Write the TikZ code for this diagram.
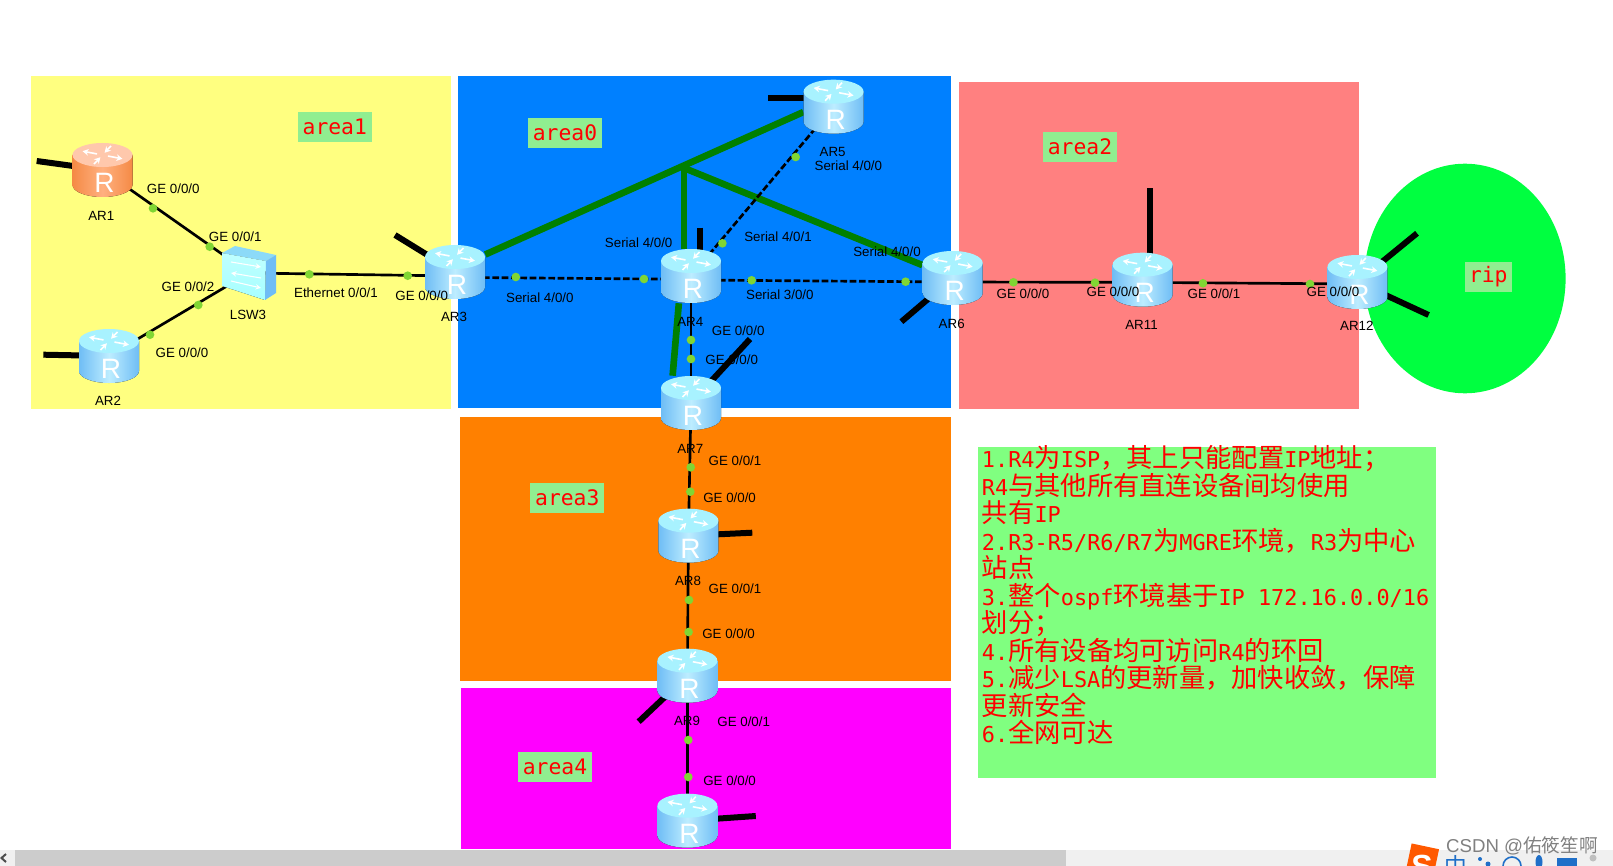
\documentclass[tikz,border=0pt]{standalone}
\usepackage{fontspec}
\usetikzlibrary{arrows.meta}
\setmainfont{Liberation Sans}
\setmonofont{DejaVu Sans Mono}
\newfontfamily\cjk{Noto Sans CJK SC}
\newcommand{\cn}[1]{{\fontsize{19.7}{20.6}\selectfont\cjk #1}}
\definecolor{areaone}{HTML}{FFFF80}
\definecolor{areazero}{HTML}{0080FF}
\definecolor{areatwo}{HTML}{FF8080}
\definecolor{areathree}{HTML}{FF8000}
\definecolor{areafour}{HTML}{FF00FF}
\definecolor{ripgreen}{HTML}{00FF40}
\definecolor{notegreen}{HTML}{80FF80}
\definecolor{tagfill}{HTML}{90EE90}
\definecolor{linkgreen}{HTML}{008000}
\definecolor{dotgreen}{HTML}{80D633}
\definecolor{blueedge}{HTML}{6FBDF5}
\definecolor{bluemid}{HTML}{BDEDFF}
\definecolor{bluetop}{HTML}{A8F2FF}
\definecolor{orangeedge}{HTML}{F58A45}
\definecolor{orangemid}{HTML}{FFB080}
\definecolor{orangetop}{HTML}{FFC8AC}
\definecolor{imeblue}{HTML}{1F6FC8}
\tikzset{
  routerbox/.style={minimum width=45pt,minimum height=40.5pt,inner sep=0pt},
  areatag/.style={fill=tagfill,text=red,font=\fontsize{16}{16}\selectfont\ttfamily,
    minimum width=55.5pt,minimum height=22.5pt,inner sep=0pt},
  portdot/.style={circle,fill=dotgreen,minimum size=6.5pt,inner sep=0pt},
  portlabel/.style={font=\fontsize{10}{10}\selectfont,inner sep=0pt},
  stub/.style={line width=4.5pt},
  etherlink/.style={line width=2pt},
  seriallink/.style={line width=2pt,dash pattern=on 5pt off 2pt},
  ospflink/.style={line width=5pt,linkgreen},
  glyph/.style={white,line width=1.2pt},
  pics/router/.style n args={3}{code={
    \fill[left color=#1,right color=#1,middle color=#2]
      (-30,-15) -- (-30,15) arc[start angle=180,end angle=0,x radius=30,y radius=12] -- (30,-15) -- cycle;
    \fill[#3] (0,-15) ellipse [x radius=30,y radius=12];
    \foreach \a in {25,205} {
      \draw[glyph,-{Stealth[length=4.5pt,width=5pt]}] ({6*cos(\a)},{-15+2.5*sin(\a)}) -- ({22*cos(\a)},{-15+9*sin(\a)});
    }
    \foreach \a in {115,295} {
      \draw[glyph,{Stealth[length=4.5pt,width=5pt]}-] ({5*cos(\a)},{-15+2.5*sin(\a)}) -- ({20*cos(\a)},{-15+10*sin(\a)});
    }
    \node[white,font=\fontsize{21}{21}\selectfont,inner sep=0pt] (-r) at (2,13) {R};
  }},
  pics/switch/.style={code={
    \fill[top color=cyan!25,bottom color=cyan!35!white] (-27,-20) -- (17,-12) -- (16,27) -- (-27,13) -- cycle;
    \fill[cyan!45] (-27,-20) -- (-14,-27) -- (27,-18) -- (17,-12) -- cycle;
    \fill[blueedge] (17,-12) -- (27,-18) -- (27,20) -- (16,27) -- cycle;
    \draw[white,line width=.8pt,-stealth] (-18,-11) -- (12,-6);
    \draw[white,line width=.8pt,stealth-] (-18,0) -- (12,5);
    \draw[white,line width=.8pt,-stealth] (-18,8) -- (12,15);
  }}
}
\begin{document}
\begin{tikzpicture}[x=.75pt,y=-.75pt]
  \useasboundingbox (0,0) rectangle (1613,866);
  \clip (0,0) rectangle (1613,866);
  % areas
  \fill[areaone] (30.7,75.7) rectangle (450.7,409);
  \fill[areazero] (458,75.7) rectangle (950.7,408);
  \fill[areatwo] (959.3,82.3) rectangle (1359.3,409.3);
  \fill[areathree] (459.6,417.3) rectangle (950.7,680.7);
  \fill[areafour] (460.7,688) rectangle (950.7,849);
  \fill[ripgreen] (1465,278.5) ellipse [x radius=100.6,y radius=114.8];
  % devices
  \node[routerbox] (AR1) at (102.5,170) {};
  \node[routerbox] (AR2) at (109,356) {};
  \node[routerbox] (LSW3) at (249,273) {};
  \node[routerbox] (AR3) at (455,272) {};
  \node[routerbox] (AR4) at (691,276) {};
  \node[routerbox] (AR5) at (833.6,106.7) {};
  \node[routerbox] (AR6) at (952.7,278) {};
  \node[routerbox] (AR7) at (691,403) {};
  \node[routerbox] (AR8) at (688.4,535.7) {};
  \node[routerbox] (AR9) at (687.4,675.7) {};
  \node[routerbox] (AR10) at (687.4,820.7) {};
  \node[routerbox] (AR11) at (1142.6,279.7) {};
  \node[routerbox] (AR12) at (1357.4,282) {};
  \coordinate (hub) at (684,168);
  % loose ends
  \coordinate (endA) at (36.7,161);
  \coordinate (endB) at (43.3,354.7);
  \coordinate (endC) at (395,235);
  \coordinate (endD) at (699.5,227.7);
  \coordinate (endE) at (768,98);
  \coordinate (endF) at (901.4,321.7);
  \coordinate (endG) at (750,339);
  \coordinate (endH) at (752.3,532.7);
  \coordinate (endI) at (638.7,721.7);
  \coordinate (endJ) at (755.8,816);
  \coordinate (endK) at (1150.4,188.3);
  \coordinate (endL) at (1417,233.3);
  \coordinate (endM) at (1428.6,315);
  % green tunnels
  \draw[ospflink] (AR3.30) -- (AR5.190);
  \draw[ospflink] (hub) -- (AR6.157);
  \draw[ospflink] (hub) -- (hub |- AR4.north);
  \draw[ospflink] (AR4.246) -- (AR7.124);
  % links
  \draw[etherlink] (AR1.center) -- (LSW3.center);
  \draw[etherlink] (AR2.center) -- (LSW3.center);
  \draw[etherlink] (LSW3.center) -- ([yshift=-3pt]AR3.center);
  \draw[seriallink] ([yshift=-4pt]AR3.center) -- ([yshift=-2.5pt]AR4.center);
  \draw[seriallink] ([yshift=-3pt]AR4.center) -- ([yshift=-3pt]AR6.center);
  \draw[seriallink] (AR4.center) -- (AR5.center);
  \draw[etherlink] (AR4.center) -- (AR7.center);
  \draw[etherlink] (AR7.center) -- (AR8.center);
  \draw[etherlink] (AR8.center) -- (AR9.center);
  \draw[etherlink] (AR9.center) -- (AR10.center);
  \draw[etherlink] ([yshift=-3pt]AR6.center) -- ([yshift=-2pt]AR11.center);
  \draw[etherlink] ([yshift=-2pt]AR11.center) -- ([yshift=-1.5pt]AR12.center);
  % stubs
  \draw[stub] (endA) -- (AR1.center);
  \draw[stub] (endB) -- (AR2.center);
  \draw[stub] (endC) -- (AR3.center);
  \draw[stub] (endD) -- (endD |- AR4.center);
  \draw[stub] (endE) -- (AR5.center |- endE);
  \draw[stub] (endF) -- (AR6.center);
  \draw[stub] (endG) -- (AR7.center);
  \draw[stub] (endH) -- (AR8.center);
  \draw[stub] (endI) -- (AR9.center);
  \draw[stub] (endJ) -- (AR10.center);
  \draw[stub] (endK) -- (endK |- AR11.center);
  \draw[stub] (endL) -- (AR12.center);
  \draw[stub] (endM) -- (AR12.center);
  % port dots
  \node[portdot] (dotA) at (153,208.3) {};
  \node[portdot] (dotB) at (209.7,246.7) {};
  \node[portdot] (dotC) at (198.3,305) {};
  \node[portdot] (dotD) at (150,334.7) {};
  \node[portdot] (dotE) at (309.3,274.3) {};
  \node[portdot] (dotF) at (407.7,275.7) {};
  \node[portdot] (dotG) at (515.8,277) {};
  \node[portdot] (dotH) at (644,279) {};
  \node[portdot] (dotI) at (751.6,280.3) {};
  \node[portdot] (dotJ) at (905.6,281.7) {};
  \node[portdot] (dotK) at (722.4,243.3) {};
  \node[portdot] (dotL) at (795.7,157) {};
  \node[portdot] (dotM) at (691,340) {};
  \node[portdot] (dotN) at (691,359) {};
  \node[portdot] (dotO) at (690.7,467.3) {};
  \node[portdot] (dotP) at (690.3,491.7) {};
  \node[portdot] (dotQ) at (689,600) {};
  \node[portdot] (dotR) at (688.6,632) {};
  \node[portdot] (dotS) at (688.3,740) {};
  \node[portdot] (dotT) at (688.3,777) {};
  \node[portdot] (dotU) at (1013.4,282.3) {};
  \node[portdot] (dotV) at (1095,282.7) {};
  \node[portdot] (dotW) at (1202.9,283.3) {};
  \node[portdot] (dotX) at (1310,284) {};
  % router bodies
  \pic (bodyAR1) at (AR1) {router={orangeedge}{orangemid}{orangetop}};
  \foreach \n in {AR2,AR3,AR4,AR5,AR6,AR7,AR8,AR9,AR10,AR11,AR12} {
    \pic (body\n) at (\n) {router={blueedge}{bluemid}{bluetop}};
  }
  \pic (bodyLSW3) at (LSW3) {switch};
  % area tags
  \node[areatag] (tagA) at (334.8,126.8) {area1};
  \node[areatag] (tagB) at (565,133.2) {area0};
  \node[areatag] (tagC) at (1080,146.7) {area2};
  \node[areatag] (tagD) at (567.3,498) {area3};
  \node[areatag] (tagE) at (555,766.8) {area4};
  \node[areatag,minimum width=35.5pt] (tagF) at (1488.3,276.7) {rip};
  % names
  \node[portlabel] (nameA) at (101.3,216) {AR1};
  \node[portlabel] (nameB) at (108,401) {AR2};
  \node[portlabel] (nameC) at (248,315) {LSW3};
  \node[portlabel] (nameD) at (454,317.3) {AR3};
  \node[portlabel] (nameE) at (690.3,321.7) {AR4};
  \node[portlabel] (nameF) at (832.6,152.3) {AR5};
  \node[portlabel] (nameG) at (951.7,324) {AR6};
  \node[portlabel] (nameH) at (690.3,448.7) {AR7};
  \node[portlabel] (nameI) at (688,581.3) {AR8};
  \node[portlabel] (nameJ) at (687,721.3) {AR9};
  \node[portlabel] (nameK) at (1141.5,325) {AR11};
  \node[portlabel] (nameL) at (1356.8,326) {AR12};
  % port labels
  \node[portlabel] (portA) at (173.3,189) {GE 0/0/0};
  \node[portlabel] (portB) at (235.3,236.7) {GE 0/0/1};
  \node[portlabel] (portC) at (188,286.7) {GE 0/0/2};
  \node[portlabel] (portD) at (182,352.7) {GE 0/0/0};
  \node[portlabel] (portE) at (336,293) {Ethernet 0/0/1};
  \node[portlabel] (portF) at (421.7,295.3) {GE 0/0/0};
  \node[portlabel] (portG) at (848.4,165.3) {Serial 4/0/0};
  \node[portlabel] (portH) at (778,236.7) {Serial 4/0/1};
  \node[portlabel] (portI) at (638.7,242.7) {Serial 4/0/0};
  \node[portlabel] (portJ) at (887,251.7) {Serial 4/0/0};
  \node[portlabel] (portK) at (539.9,298) {Serial 4/0/0};
  \node[portlabel] (portL) at (779.9,294.3) {Serial 3/0/0};
  \node[portlabel] (portM) at (738.2,330.3) {GE 0/0/0};
  \node[portlabel] (portN) at (731.7,359.3) {GE 0/0/0};
  \node[portlabel] (portO) at (1023,294) {GE 0/0/0};
  \node[portlabel] (portP) at (1113,291.3) {GE 0/0/0};
  \node[portlabel] (portQ) at (1214,294) {GE 0/0/1};
  \node[portlabel] (portR) at (1333,291.3) {GE 0/0/0};
  \node[portlabel] (portS) at (735,460.3) {GE 0/0/1};
  \node[portlabel] (portT) at (729.6,497.7) {GE 0/0/0};
  \node[portlabel] (portU) at (735,589) {GE 0/0/1};
  \node[portlabel] (portV) at (728.6,634) {GE 0/0/0};
  \node[portlabel] (portW) at (743.7,721.7) {GE 0/0/1};
  \node[portlabel] (portX) at (729.6,780.3) {GE 0/0/0};
  % notes
  \fill[notegreen] (978,446.7) rectangle (1435.8,778);
  \node[anchor=north west,inner sep=0pt,align=left,text=red,font=\fontsize{16.4}{20.6}\selectfont\ttfamily] (notes) at (981.7,445.5) {%
    1.R4\cn{为}ISP\cn{，其上只能配置}IP\cn{地址；}\\
    R4\cn{与其他所有直连设备间均使用}\\
    \cn{共有}IP\\
    2.R3-R5/R6/R7\cn{为}MGRE\cn{环境，}R3\cn{为中心}\\
    \cn{站点}\\
    3.\cn{整个}ospf\cn{环境基于}IP 172.16.0.0/16\\
    \cn{划分；}\\
    4.\cn{所有设备均可访问}R4\cn{的环回}\\
    5.\cn{减少}LSA\cn{的更新量，加快收敛，保障}\\
    \cn{更新安全}\\
    6.\cn{全网可达}};
  % scroll bar
  \fill[black!6] (0,849.5) rectangle (1613,866);
  \fill[black!20] (15,849.5) rectangle (1066,866);
  \draw[black!70,line width=1.5pt] (6,854) -- (1.5,858) -- (6,862);
  % input method bar and watermark
  \fill[orange!70!red,rotate around={-12:(1422,862)}] (1408,846) rectangle (1436,880);
  \node[white,font=\bfseries\fontsize{24}{24}\selectfont,inner sep=0pt] (imeS) at (1422,866) {S};
  \node[imeblue,inner sep=0pt,font=\fontsize{17}{17}\selectfont\cjk] (imeA) at (1456,866) {中};
  \fill[imeblue] (1480,859) circle (2) (1488,864) circle (2.5);
  \draw[imeblue,line width=1.2pt] (1512,866) circle (9);
  \fill[imeblue] (1539,862) ellipse [x radius=3.5,y radius=7];
  \fill[imeblue] (1557,858) rectangle (1577,866);
  \fill[black!25] (1593,858) circle (3.5) (1585,866) rectangle (1601,868);
  \node[black!50,inner sep=0pt,font=\fontsize{14}{14}\selectfont] (mark) at (1522,846) {CSDN @{\cjk 佑筱笙啊}};
\end{tikzpicture}
\end{document}
